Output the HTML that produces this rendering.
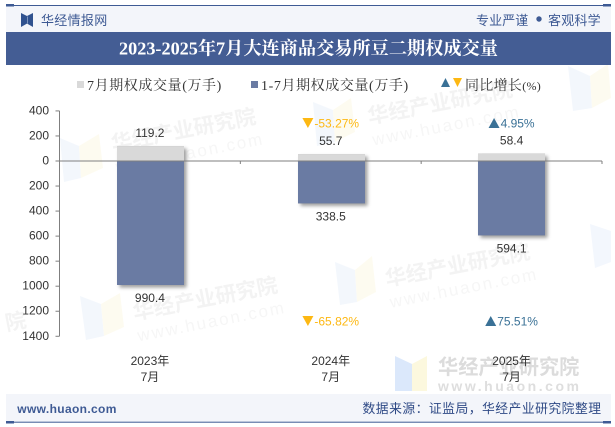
<!DOCTYPE html>
<html lang="zh">
<head>
<meta charset="utf-8">
<title>2023-2025年7月大连商品交易所豆二期权成交量</title>
<style>
html,body{margin:0;padding:0;background:#fff;}
#stage{position:relative;width:615px;height:427px;overflow:hidden;background:#fff;}
svg{position:absolute;left:0;top:0;}
text{font-family:"Liberation Sans","Noto Sans CJK SC",sans-serif;}
.serif{font-family:"Liberation Serif","Noto Serif CJK SC",serif;}
.sans{font-family:"Liberation Sans","WenQuanYi Zen Hei","Noto Sans CJK SC",sans-serif;}
</style>
</head>
<body>
<div id="stage">
<svg id="chart" width="615" height="427" viewBox="0 0 615 427" xmlns="http://www.w3.org/2000/svg">
  <defs>
    <filter id="barShadow" x="-20%" y="-20%" width="150%" height="150%">
      <feDropShadow dx="2.5" dy="2.5" stdDeviation="1.8" flood-color="#000" flood-opacity="0.38"/>
    </filter>
  </defs>

  <g id="watermarks">
    <g opacity="0.5">
      <polygon points="60,138 79,146 81,178 64,182" fill="#e8f0fb"/>
      <polygon points="79,146 99,134 103,168 81,178" fill="#fcf8e3"/>
      <polygon points="313,102 333,110 335,142 317,146" fill="#e8f0fb"/>
      <polygon points="333,110 351,98 355,132 335,142" fill="#fcf8e3"/>
      <polygon points="80,296 101,304 104,336 86,340" fill="#e8f0fb"/>
      <polygon points="101,304 120,293 124,327 104,336" fill="#fcf8e3"/>
      <polygon points="335,262 355,270 357,302 340,305" fill="#e8f0fb"/>
      <polygon points="355,270 372,256 376,292 357,302" fill="#fcf8e3"/>
      <polygon points="568,66 590,76 592,108 573,111" fill="#e8f0fb"/>
      <polygon points="590,76 608,64 611,98 592,108" fill="#fcf8e3"/>
      <polygon points="590,224 611,231 611,262 595,268" fill="#e8f0fb"/>
    </g>
    <g transform="rotate(-11 185 130)" opacity="0.5">
      <text x="110" y="137" font-size="21" font-weight="700" fill="#e8e8e8">华经产业研究院</text>
      <text x="110" y="159" font-size="17" letter-spacing="2" fill="#eeeeee">www.huaon.com</text>
    </g>
    <g transform="rotate(-11 440 100)" opacity="0.5">
      <text x="366" y="110" font-size="21" font-weight="700" fill="#e8e8e8">华经产业研究院</text>
      <text x="366" y="132" font-size="17" letter-spacing="2" fill="#eeeeee">www.huaon.com</text>
    </g>
    <g transform="rotate(-11 205 300)" opacity="0.5">
      <text x="132" y="306" font-size="21" font-weight="700" fill="#e8e8e8">华经产业研究院</text>
      <text x="132" y="328" font-size="17" letter-spacing="2" fill="#eeeeee">www.huaon.com</text>
    </g>
    <g transform="rotate(-11 460 270)" opacity="0.5">
      <text x="385" y="272" font-size="21" font-weight="700" fill="#e8e8e8">华经产业研究院</text>
      <text x="385" y="294" font-size="17" letter-spacing="2" fill="#eeeeee">www.huaon.com</text>
    </g>
    <g transform="rotate(-11 20 320)" opacity="0.5">
      <text x="5" y="328" font-size="21" font-weight="700" fill="#e8e8e8">院</text>
    </g>
    <g>
      <polygon points="395,356 412,364 412,391 395,391" fill="#dbe8fb"/>
      <polygon points="412,364 427,356 427,391 412,391" fill="#fcf8de"/>
      <text x="438" y="374" font-size="20.2" font-weight="700" fill="#dcdcdc" class="sans">华经产业研究院</text>
      <text x="438" y="391" font-size="14" font-weight="700" textLength="141" lengthAdjust="spacing" fill="#dedede">www.huaon.com</text>
    </g>
  </g>

  <g id="frame">
    <rect x="6" y="6" width="605" height="26" fill="#f3f5fa"/>
    <rect x="6" y="5" width="605" height="1" fill="#3e5a94"/>
    <rect x="6" y="4" width="8" height="2.5" fill="#3e5a94"/>
    <rect x="603" y="4" width="8" height="2.5" fill="#3e5a94"/>
    <g>
      <polygon points="21,13 28,16.5 28,23 21,27" fill="#30528f"/>
      <polygon points="33,13 26,16.5 26,23 33,27" fill="#30528f"/>
      <rect x="27" y="16.5" width="1" height="7" fill="#7d94bd"/>
    </g>
    <text x="41" y="25" font-size="13" letter-spacing="0.3" fill="#3e5a94" class="sans">华经情报网</text>
    <text x="476" y="25" font-size="13" letter-spacing="0.1" fill="#3e5a94" class="sans">专业严谨</text>
    <circle cx="539" cy="19" r="2.7" fill="#3e5a94"/>
    <text x="548" y="25" font-size="13" letter-spacing="0.2" fill="#3e5a94" class="sans">客观科学</text>
    <rect x="6" y="32" width="605" height="33" fill="#445d94"/>
    <text x="308.5" y="54.5" text-anchor="middle" font-size="18.2" font-weight="700" fill="#fff" class="serif">2023-2025年7月大连商品交易所豆二期权成交量</text>
    <rect x="6" y="394" width="605" height="28" fill="#f3f5fa"/>
    <rect x="6" y="421.7" width="605" height="1" fill="#3e5a94"/>
    <rect x="6" y="421" width="8" height="2.5" fill="#3e5a94"/>
    <rect x="603" y="421" width="8" height="2.5" fill="#3e5a94"/>
    <text x="17.3" y="413" font-size="12" font-weight="700" letter-spacing="0.35" fill="#3e5a94">www.huaon.com</text>
    <text x="601.5" y="413" text-anchor="end" font-size="12.8" letter-spacing="0.48" fill="#2f4a86" class="sans">数据来源：证监局，华经产业研究院整理</text>
  </g>

  <g id="legend">
    <g>
      <rect x="77" y="81" width="7" height="7" fill="#d9d9d9"/>
      <text x="87" y="90" font-size="14" letter-spacing="0.6" fill="#333" class="serif">7月期权成交量(万手)</text>
    </g>
    <g>
      <rect x="251" y="81" width="7" height="7" fill="#6a7ba3"/>
      <text x="261" y="90" font-size="14" letter-spacing="0.6" fill="#333" class="serif">1-7月期权成交量(万手)</text>
    </g>
    <g>
      <polygon points="441,87 450,87 445.5,78" fill="#3a7196"/>
      <polygon points="453,78 462,78 457.5,87" fill="#fdb813"/>
      <text x="465" y="90" font-size="14" letter-spacing="0.3" fill="#333" class="serif">同比增长<tspan font-size="12">(%)</tspan></text>
    </g>
  </g>

  <g id="plot"></g>
</svg>
</div>
<script>
var categories = ['2023年|7月', '2024年|7月', '2025年|7月'];
var monthlyValues = [119.2, 55.7, 58.4];
var cumulativeValues = [990.4, 338.5, 594.1];
var monthlyGrowth = [null, -53.27, 4.95];
var cumulativeGrowth = [null, -65.82, 75.51];
var upperTicks = [400, 200, 0];
var lowerTicks = [200, 400, 600, 800, 1000, 1200, 1400];

var NS = 'http://www.w3.org/2000/svg';
var plot = document.getElementById('plot');
var ZERO_Y = 161, PX_PER_UNIT = 0.1252, AXIS_X = 59.5, RIGHT_X = 602, BAR_W = 67;
var MONTHLY_GROWTH_Y = 123, CUMULATIVE_GROWTH_Y = 321;
var UP = '#3a7196', DOWN = '#fdb813';

function yUp(v) { return ZERO_Y - v * PX_PER_UNIT; }
function yDown(v) { return ZERO_Y + v * PX_PER_UNIT; }
function xCenter(i) { return AXIS_X + (RIGHT_X - AXIS_X) * (i + 0.5) / categories.length; }
function xBoundary(i) { return AXIS_X + (RIGHT_X - AXIS_X) * i / categories.length; }

function line(x1, y1, x2, y2, parent) {
  var el = document.createElementNS(NS, 'line');
  el.setAttribute('x1', x1);
  el.setAttribute('y1', y1);
  el.setAttribute('x2', x2);
  el.setAttribute('y2', y2);
  el.setAttribute('stroke', '#7f7f7f');
  el.setAttribute('stroke-width', '1');
  (parent || plot).appendChild(el);
  return el;
}
function label(str, x, y, size, fill, anchor) {
  var el = document.createElementNS(NS, 'text');
  el.setAttribute('x', x);
  el.setAttribute('y', y);
  el.setAttribute('font-size', size);
  el.setAttribute('fill', fill);
  el.setAttribute('text-anchor', anchor || 'middle');
  el.textContent = str;
  plot.appendChild(el);
  return el;
}

var yAxis = line(AXIS_X, yUp(upperTicks[0]), AXIS_X, yDown(lowerTicks[lowerTicks.length - 1]));



upperTicks.forEach(function (v) {
  var t = line(AXIS_X - 4, yUp(v), AXIS_X, yUp(v));
  
  
  var l = label(String(v), 49, yUp(v) + 3.5, 12, '#333', 'end');
  
  
});
lowerTicks.forEach(function (v) {
  var t = line(AXIS_X - 4, yDown(v), AXIS_X, yDown(v));
  
  
  var l = label(String(v), 49, yDown(v) + 3.5, 12, '#333', 'end');
  
  
});

function growthMark(value, cx, y, fontSize) {
  if (value === null) return;
  var up = value >= 0;
  var color = up ? UP : DOWN;
  var str = value.toFixed(2) + '%';
  var textEl = label(str, cx + 6, y + 4.5, fontSize, color);
  
  
  var halfW = textEl.getComputedTextLength() / 2;
  var left = cx + 6 - halfW - 1;
  var tri = document.createElementNS(NS, 'polygon');
  var pts = up
    ? [[left - 11, y + 5], [left, y + 5], [left - 5.5, y - 5]]
    : [[left - 11, y - 5], [left, y - 5], [left - 5.5, y + 5]];
  tri.setAttribute('points', pts.map(function (p) { return p.join(','); }).join(' '));
  tri.setAttribute('fill', color);
  
  
  plot.appendChild(tri);
}

categories.forEach(function (cat, i) {
  var cx = xCenter(i);
  var x = Math.round(cx - BAR_W / 2 + 0.4);

  var shadow = document.createElementNS(NS, 'rect');
  shadow.setAttribute('x', x);
  shadow.setAttribute('y', yUp(monthlyValues[i]));
  shadow.setAttribute('width', BAR_W);
  shadow.setAttribute('height', yDown(cumulativeValues[i]) - yUp(monthlyValues[i]));
  shadow.setAttribute('fill', '#888');
  shadow.setAttribute('filter', 'url(#barShadow)');
  
  
  plot.appendChild(shadow);

  var top = document.createElementNS(NS, 'rect');
  top.setAttribute('x', x);
  top.setAttribute('y', yUp(monthlyValues[i]));
  top.setAttribute('width', BAR_W);
  top.setAttribute('height', ZERO_Y - yUp(monthlyValues[i]));
  top.setAttribute('fill', '#d9d9d9');
  
  
  plot.appendChild(top);

  var bottom = document.createElementNS(NS, 'rect');
  bottom.setAttribute('x', x);
  bottom.setAttribute('y', ZERO_Y);
  bottom.setAttribute('width', BAR_W);
  bottom.setAttribute('height', yDown(cumulativeValues[i]) - ZERO_Y);
  bottom.setAttribute('fill', '#6a7ba3');
  
  
  plot.appendChild(bottom);

  var vTop = label(monthlyValues[i].toFixed(1), cx, yUp(monthlyValues[i]) - 9, 12, '#333');
  
  
  var vBottom = label(cumulativeValues[i].toFixed(1), cx, yDown(cumulativeValues[i]) + 17, 12, '#333');
  
  

  var parts = cat.split('|');
  var c1 = label(parts[0], cx, 365, 12, '#333');
  
  
  var c2 = label(parts[1], cx, 381, 12, '#333');
  
  

  growthMark(monthlyGrowth[i], cx, MONTHLY_GROWTH_Y, 12);
  growthMark(cumulativeGrowth[i], cx, CUMULATIVE_GROWTH_Y, 12);
});

var xAxis = line(AXIS_X, ZERO_Y, RIGHT_X, ZERO_Y);


for (var b = 1; b <= categories.length; b++) {
  var tick = line(xBoundary(b), ZERO_Y, xBoundary(b), ZERO_Y + 3);
  
  
}
</script>
</body>
</html>
